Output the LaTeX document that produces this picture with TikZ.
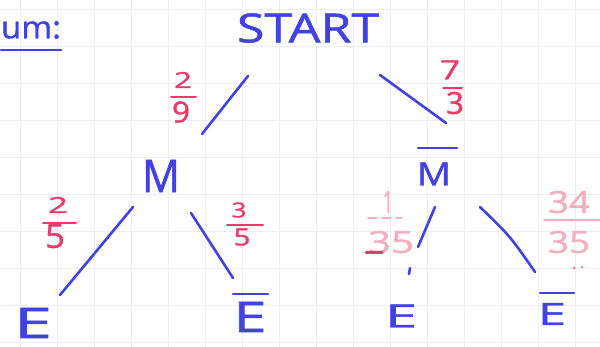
\documentclass[tikz,border=0pt]{standalone}
\usepackage{fontspec}
\setmainfont{Open Sans}
\newfontfamily\hwfont{Open Sans}[FakeBold=1.2]
\usepackage{graphicx}
\definecolor{inkblue}{RGB}{66,66,226}
\definecolor{inkred}{RGB}{232,60,104}
\definecolor{inkpale}{RGB}{242,176,190}
\definecolor{gridgray}{RGB}{236,238,241}
% scale a piece of handwriting to a given width and height (in pt)
\newcommand{\hwbox}[3]{\resizebox{#1pt}{#2pt}{\hwfont #3}}
\tikzset{
  gridline/.style={draw=gridgray, line width=0.9pt},
  hw/.style={inner sep=0pt, outer sep=0pt, text=inkblue},
  hwred/.style={inner sep=0pt, outer sep=0pt, text=inkred},
  hwpale/.style={inner sep=0pt, outer sep=0pt, text=inkpale},
  branch/.style={draw=inkblue, line width=2.6pt, line cap=round},
  bar/.style={draw=inkblue, line width=2.4pt, line cap=round},
  redbar/.style={draw=inkred, line width=2pt, line cap=round},
  palebar/.style={draw=inkpale, line width=1.6pt, line cap=round},
}
\begin{document}
\begin{tikzpicture}[x=1pt, y=-1pt]
\useasboundingbox (0,0) rectangle (600,347);
\fill[white] (0,0) rectangle (600,347);

% squared paper
\begin{scope}
\clip (0,0) rectangle (600,347);
\foreach \gx in {20,57,...,600} \draw[gridline] (\gx,0) -- (\gx,347);
\foreach \gy in {9,46,...,347} \draw[gridline] (0,\gy) -- (600,\gy);
\end{scope}

% heading
\node[hw, anchor=west] (head) at (1,30) {\hwbox{60}{17}{um:}};
\draw[bar, line width=2.6pt] (1,50) -- (61,50);

% tree nodes
\node[hw] (start) at (308,28) {\hwbox{142}{29}{START}};
\node[hw] (m) at (161,176) {\hwbox{38}{32}{M}};
\node[hw] (mbar) at (434,174) {\hwbox{34}{23}{M}};
\draw[bar] (418,148) -- (457,148);
\node[hw] (e1) at (33,323) {\hwbox{38}{30}{E}};
\node[hw] (e2) at (250,317) {\hwbox{33}{30}{E}};
\draw[bar] (233,294) -- (268,294);
\node[hw] (e3) at (401,316) {\hwbox{32}{23}{E}};
\node[hw] (e4) at (552,314) {\hwbox{28}{22}{E}};
\draw[bar] (540,293) -- (574,293);

% branch end points
\coordinate (s1) at (248,76);  \coordinate (m1) at (202,134);
\coordinate (s2) at (380,75);  \coordinate (n1) at (446,123);
\coordinate (ma) at (133,207); \coordinate (ea) at (60,295);
\coordinate (mb) at (191,213); \coordinate (eb) at (233,278);
\coordinate (na) at (435,207); \coordinate (ec) at (418,247);
\coordinate (nb) at (480,207); \coordinate (ed) at (535,272);

\draw[branch] (s1) -- (m1);
\draw[branch] (s2) -- (n1);
\draw[branch] (ma) -- (ea);
\draw[branch] (mb) -- (eb);
\draw[branch] (na) -- (ec);
\draw[branch] (410,268) -- (409,274);
\draw[branch] (nb) .. controls (510,236) .. (ed);

% probabilities
\node[hwred] (p29n) at (183,80) {\hwbox{18}{16}{2}};
\draw[redbar] (171,97) -- (196,97);
\node[hwred] (p29d) at (181,112) {\hwbox{18}{21}{9}};

\node[hwred] (p73n) at (450,70) {\hwbox{20}{19}{7}};
\draw[redbar] (443,88) -- (462,88);
\node[hwred] (p73d) at (455,103) {\hwbox{18}{22}{3}};

\node[hwred] (p25n) at (58,205) {\hwbox{20}{16}{2}};
\draw[redbar] (43,223) -- (76,223);
\node[hwred] (p25d) at (55,236) {\hwbox{20}{24}{5}};

\node[hwred] (p35n) at (239,210) {\hwbox{15}{15}{3}};
\draw[redbar] (227,225) -- (263,225);
\node[hwred] (p35d) at (242,237) {\hwbox{17}{17}{5}};

\node[hwpale] (q1n) at (388,202) {\hwbox{10}{22}{1}};
\draw[palebar, dash pattern=on 9pt off 5pt] (368,218) -- (402,218);
\node[hwpale] (q1d) at (391,242) {\hwbox{46}{22}{35}};
\draw[redbar, line width=3pt] (366,253) -- (382,253);

\node[hwpale] (q34n) at (569,202) {\hwbox{42}{22}{34}};
\draw[palebar] (544,220) -- (600,220);
\node[hwpale] (q34d) at (569,242) {\hwbox{42}{22}{35}};
\fill[inkred!70] (574,268) circle (1.5pt) (582,267) circle (1.3pt);
\end{tikzpicture}
\end{document}
